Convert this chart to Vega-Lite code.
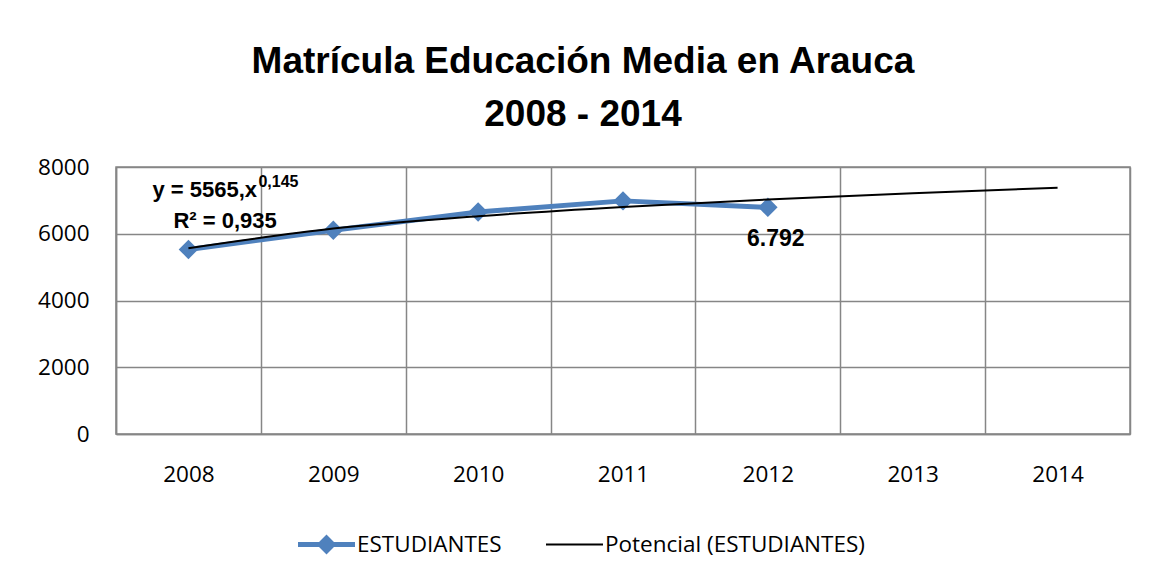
{
  "$schema": "https://vega.github.io/schema/vega-lite/v6.json",
  "width": 1014,
  "height": 267,
  "autosize": {"type": "none"},
  "padding": {"left": 116, "top": 167, "right": 26, "bottom": 145},
  "background": "#ffffff",
  "title": {
    "text": ["Matrícula Educación Media en Arauca", "2008 - 2014"],
    "font": "Liberation Sans",
    "fontSize": 37,
    "fontWeight": "bold",
    "lineHeight": 53,
    "color": "#000000",
    "anchor": "middle",
    "frame": "group",
    "dx": -40,
    "offset": 22
  },
  "datasets": {
    "main": [
      {"year": "2008", "serie": "ESTUDIANTES", "value": 5530},
      {"year": "2009", "serie": "ESTUDIANTES", "value": 6105},
      {"year": "2010", "serie": "ESTUDIANTES", "value": 6650},
      {"year": "2011", "serie": "ESTUDIANTES", "value": 6985},
      {"year": "2012", "serie": "ESTUDIANTES", "value": 6792}
    ],
    "trend": [
      {"year": "2008", "serie": "Potencial (ESTUDIANTES)", "value": 5565},
      {"year": "2009", "serie": "Potencial (ESTUDIANTES)", "value": 6154},
      {"year": "2010", "serie": "Potencial (ESTUDIANTES)", "value": 6526},
      {"year": "2011", "serie": "Potencial (ESTUDIANTES)", "value": 6804},
      {"year": "2012", "serie": "Potencial (ESTUDIANTES)", "value": 7028},
      {"year": "2013", "serie": "Potencial (ESTUDIANTES)", "value": 7216},
      {"year": "2014", "serie": "Potencial (ESTUDIANTES)", "value": 7379}
    ],
    "label": [
      {"year": "2012", "value": 6792, "text": "6.792"}
    ],
    "eq1": [
      {"year": "2008", "value": 7101, "text": "y = 5565,x"}
    ],
    "eqsup": [
      {"year": "2008", "value": 7401, "text": "0,145"}
    ],
    "eq2": [
      {"year": "2008", "value": 6172, "text": "R² = 0,935"}
    ]
  },
  "encoding": {
    "x": {
      "field": "year",
      "type": "ordinal",
      "bandPosition": 0.5,
      "scale": {"type": "band", "domain": ["2008", "2009", "2010", "2011", "2012", "2013", "2014"], "paddingInner": 0, "paddingOuter": 0},
      "axis": {
        "title": null,
        "labelAngle": 0,
        "tickBand": "extent",
        "grid": true,
        "ticks": false,
        "labelPadding": 29,
        "labelBaseline": "top"
      }
    },
    "y": {
      "field": "value",
      "type": "quantitative",
      "scale": {"domain": [0, 8000], "nice": false, "zero": true},
      "axis": {
        "title": null,
        "values": [0, 2000, 4000, 6000, 8000],
        "grid": true,
        "ticks": false,
        "labelPadding": 27,
        "format": "d"
      }
    }
  },
  "layer": [
    {
      "data": {"name": "main"},
      "mark": {"type": "line", "strokeWidth": 5, "strokeJoin": "round", "strokeCap": "round"},
      "encoding": {
        "color": {
          "field": "serie",
          "type": "nominal",
          "scale": {"domain": ["ESTUDIANTES", "Potencial (ESTUDIANTES)"], "range": ["#4F81BD", "#000000"]},
          "legend": {
            "title": null,
            "orient": "none",
            "direction": "horizontal",
            "legendX": 182,
            "legendY": 349,
            "padding": 0,
            "columnPadding": 44,
            "labelOffset": 2,
            "symbolSize": 3249,
            "labelFont": "Open Sans",
            "labelFontSize": 22.5,
            "labelColor": "#000000",
            "labelLimit": 0,
            "encode": {
              "symbols": {
                "update": {
                  "shape": {"signal": "datum.value === 'ESTUDIANTES' ? 'M-1,-0.088L-0.262,-0.088L0,-0.35L0.262,-0.088L1,-0.088L1,0.088L0.262,0.088L0,0.35L-0.262,0.088L-1,0.088Z' : 'M-1,-0.035L1,-0.035L1,0.035L-1,0.035Z'"},
                  "fill": {"signal": "datum.value === 'ESTUDIANTES' ? '#4F81BD' : '#000000'"},
                  "fillOpacity": {"value": 1},
                  "stroke": {"value": "transparent"},
                  "strokeWidth": {"value": 0},
                  "size": {"value": 3249}
                }
              }
            }
          }
        }
      }
    },
    {
      "data": {"name": "main"},
      "mark": {"type": "point", "shape": "diamond", "filled": true, "size": 380, "color": "#4F81BD", "opacity": 1}
    },
    {
      "data": {"name": "trend"},
      "mark": {"type": "line", "strokeWidth": 2, "interpolate": "monotone"},
      "encoding": {
        "color": {"field": "serie", "type": "nominal"}
      }
    },
    {
      "data": {"name": "label"},
      "mark": {"type": "text", "font": "Liberation Sans", "fontWeight": "bold", "fontSize": 23, "align": "center", "baseline": "alphabetic", "dx": 8, "dy": 39, "color": "#000000"},
      "encoding": {"text": {"field": "text"}}
    },
    {
      "data": {"name": "eq1"},
      "mark": {"type": "text", "font": "Liberation Sans", "fontWeight": "bold", "fontSize": 22, "align": "left", "baseline": "alphabetic", "dx": -36, "color": "#000000"},
      "encoding": {"text": {"field": "text"}}
    },
    {
      "data": {"name": "eqsup"},
      "mark": {"type": "text", "font": "Liberation Sans", "fontWeight": "bold", "fontSize": 16, "align": "left", "baseline": "alphabetic", "dx": 70, "color": "#000000"},
      "encoding": {"text": {"field": "text"}}
    },
    {
      "data": {"name": "eq2"},
      "mark": {"type": "text", "font": "Liberation Sans", "fontWeight": "bold", "fontSize": 22, "align": "left", "baseline": "alphabetic", "dx": -15, "color": "#000000"},
      "encoding": {"text": {"field": "text"}}
    }
  ],
  "config": {
    "view": {"stroke": "#868686", "strokeWidth": 1.5},
    "axis": {
      "labelFont": "Open Sans",
      "labelFontSize": 22.5,
      "labelColor": "#000000",
      "gridColor": "#868686",
      "gridWidth": 1.5,
      "gridOpacity": 1,
      "domainColor": "#868686",
      "domainWidth": 1.5
    }
  }
}
